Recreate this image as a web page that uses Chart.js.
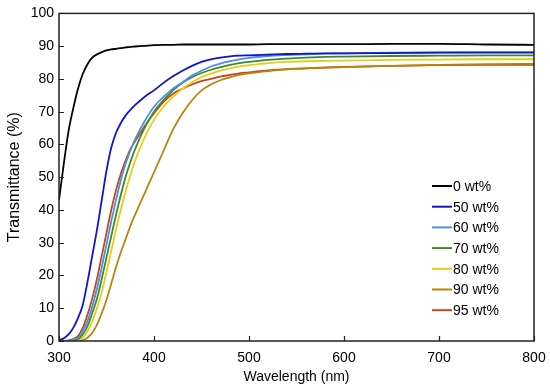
<!DOCTYPE html>
<html lang="en">
<head>
    <meta charset="UTF-8">
    <title>Transmittance spectra</title>
    <script src="https://cdn.jsdelivr.net/npm/chart.js"></script>
    <style>
        html, body { margin: 0; padding: 0; background: #ffffff; }
        .chart-container { width: 550px; height: 390px; }
    </style>
</head>
<body>
    <div class="chart-container">
        <canvas id="spectraChart"></canvas>
    </div>

    <script>
        // wavelength grid (nm)
        const wavelengths = [300, 305, 310, 315, 320, 325, 330, 335, 340, 345, 350, 355, 360, 365, 370, 375, 380,
            390, 400, 410, 420, 430, 440, 450, 460, 470, 480, 490, 500, 520, 540, 560, 580, 600, 650, 700, 750, 800];

        // transmittance (%) per sample
        const t0 = [43, 54, 64, 71, 77, 81.5, 84.5, 86.5, 87.5, 88.2, 88.7, 89, 89.2, 89.4, 89.6, 89.8, 89.9,
            90.1, 90.3, 90.4, 90.4, 90.5, 90.5, 90.5, 90.5, 90.5, 90.5, 90.5, 90.5, 90.6, 90.6, 90.6, 90.6, 90.6, 90.7, 90.7, 90.5, 90.4];
        const t50 = [0.3, 0.8, 2, 4, 7, 11, 18, 26, 34, 43, 52, 59, 63.5, 66.5, 68.8, 70.5, 72,
            74.5, 76.5, 78.8, 80.8, 82.5, 84, 85.2, 86, 86.5, 86.9, 87.1, 87.2, 87.4, 87.6, 87.7, 87.8, 87.8, 87.9, 88, 88, 88];
        const t60 = [0, 0, 0.1, 0.4, 1, 3, 6, 10.5, 16, 22.5, 29.5, 36.5, 43, 49, 54, 58, 61.5,
            67, 71.5, 74.5, 77, 79, 81, 82.5, 83.8, 84.7, 85.4, 86, 86.4, 87, 87.3, 87.5, 87.7, 87.8, 88, 88.1, 88.2, 88.2];
        const t70 = [0, 0, 0, 0.2, 0.6, 2, 4.5, 8.5, 13, 19, 25.5, 32, 38.5, 44.5, 50, 54.5, 58.5,
            65, 70, 73.5, 76.5, 78.8, 80.5, 81.8, 82.8, 83.6, 84.3, 84.8, 85.2, 85.8, 86.2, 86.5, 86.7, 86.8, 87, 87.1, 87.2, 87.2];
        const t80 = [0, 0, 0, 0.1, 0.3, 1, 3, 6, 10, 15, 21, 27.5, 34, 40, 45.5, 50.5, 55,
            62, 67.5, 71.5, 74.5, 77, 79, 80.5, 81.6, 82.5, 83.2, 83.8, 84.2, 84.8, 85.2, 85.4, 85.5, 85.6, 85.8, 85.9, 86, 86];
        const t90 = [0, 0, 0, 0, 0.1, 0.3, 1, 2.5, 5, 8.5, 12.5, 17.5, 22.5, 27, 31, 35, 38.5,
            45, 51.5, 58, 64.5, 69.5, 73.5, 76.5, 78.3, 79.6, 80.5, 81.2, 81.7, 82.4, 82.9, 83.2, 83.4, 83.6, 84, 84.3, 84.5, 84.6];
        const t95 = [0, 0, 0.2, 0.6, 1.5, 4, 8, 13, 19, 26, 33, 40, 46, 51, 55, 58.5, 61,
            65.5, 69.5, 73, 75.5, 77, 78.3, 79.3, 80, 80.7, 81.2, 81.7, 82, 82.6, 83, 83.2, 83.5, 83.7, 84, 84.2, 84.3, 84.3];

        const seriesLabels = ['0 wt%', '50 wt%', '60 wt%', '70 wt%', '80 wt%', '90 wt%', '95 wt%'];
        const seriesValues = [t0, t50, t60, t70, t80, t90, t95];
        const seriesColors = ['#000000', '#1414c8', '#4f8fe0', '#3c8a2c', '#e8cc1c', '#b8860b', '#c4461c'];

        const xTicks = [300, 400, 500, 600, 700, 800];
        const yTicks = [0, 10, 20, 30, 40, 50, 60, 70, 80, 90, 100];

        const fontFamily = '"Liberation Sans", Arial, sans-serif';

        // frame, inward tick marks and legend
        const framePlugin = {
            id: 'frame',
            afterDraw(chart) {
                const ctx = chart.ctx;
                const a = chart.chartArea;
                const xs = chart.scales.x;
                const ys = chart.scales.y;
                ctx.save();
                ctx.strokeStyle = '#222';
                ctx.lineWidth = 1.5;
                ctx.strokeRect(a.left, a.top, a.right - a.left, a.bottom - a.top);

                ctx.lineWidth = 1.2;
                ctx.beginPath();
                xTicks.forEach(v => {
                    const px = Math.round(xs.getPixelForValue(v)) + 0.5;
                    ctx.moveTo(px, a.bottom);
                    ctx.lineTo(px, a.bottom - 5);
                });
                yTicks.forEach(v => {
                    const py = Math.round(ys.getPixelForValue(v)) + 0.5;
                    ctx.moveTo(a.left, py);
                    ctx.lineTo(a.left + 5, py);
                });
                ctx.stroke();

                // legend
                ctx.font = '14px ' + fontFamily;
                ctx.textBaseline = 'middle';
                ctx.fillStyle = '#000';
                chart.data.datasets.forEach((ds, i) => {
                    const y = 186 + i * 20.7;
                    ctx.strokeStyle = ds.borderColor;
                    ctx.lineWidth = 2;
                    ctx.beginPath();
                    ctx.moveTo(432, y);
                    ctx.lineTo(452, y);
                    ctx.stroke();
                    ctx.fillText(ds.label, 453, y + 1);
                });
                ctx.restore();
            }
        };

        const ctx = document.getElementById('spectraChart').getContext('2d');
        const spectraChart = new Chart(ctx, {
            type: 'line',
            data: {
                datasets: seriesLabels.map((label, i) => ({
                    label: label,
                    data: wavelengths.map((w, j) => ({ x: w, y: seriesValues[i][j] })),
                    borderColor: seriesColors[i],
                    backgroundColor: seriesColors[i],
                    borderWidth: 1.8,
                    pointRadius: 0,
                    cubicInterpolationMode: 'monotone',
                    fill: false
                }))
            },
            options: {
                responsive: true,
                maintainAspectRatio: false,
                animation: false,
                layout: { padding: { left: 0, top: 11, right: 16, bottom: 0 } },
                plugins: {
                    legend: { display: false },
                    tooltip: { enabled: false }
                },
                scales: {
                    x: {
                        type: 'linear',
                        min: 300,
                        max: 800,
                        afterFit: s => { s.height = 49; s.paddingLeft = 0; s.paddingRight = 0; },
                        afterBuildTicks: s => { s.ticks = xTicks.map(v => ({ value: v })); },
                        grid: { display: false, drawTicks: false },
                        border: { display: false },
                        ticks: { padding: 9, color: '#000', font: { family: fontFamily, size: 14 } },
                        title: {
                            display: true,
                            text: 'Wavelength (nm)',
                            color: '#000',
                            padding: { top: 4, bottom: 4 },
                            font: { family: fontFamily, size: 14 }
                        }
                    },
                    y: {
                        min: 0,
                        max: 100,
                        afterFit: s => { s.width = 59; },
                        afterBuildTicks: s => { s.ticks = yTicks.map(v => ({ value: v })); },
                        grid: { display: false, drawTicks: false },
                        border: { display: false },
                        ticks: { padding: 5, color: '#000', font: { family: fontFamily, size: 14 } },
                        title: {
                            display: true,
                            text: 'Transmittance (%)',
                            color: '#000',
                            padding: { top: 5, bottom: 0 },
                            font: { family: fontFamily, size: 16 }
                        }
                    }
                }
            },
            plugins: [framePlugin]
        });
    </script>
</body>
</html>
